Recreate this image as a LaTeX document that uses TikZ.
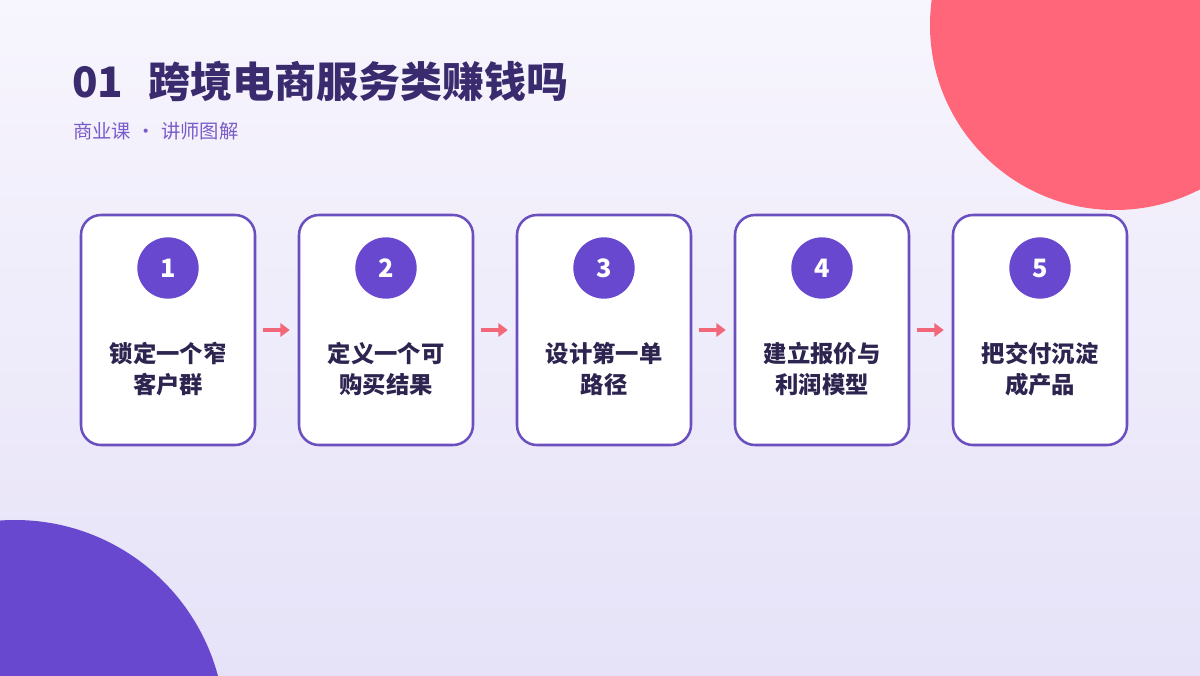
\documentclass[tikz,border=0pt]{standalone}
\usepackage{fontspec}
\setmainfont{Noto Sans CJK SC}
\usetikzlibrary{arrows.meta}
\definecolor{bgtop}{HTML}{F7F5FD}
\definecolor{bgbot}{HTML}{E6E2F8}
\definecolor{coral}{HTML}{FF6679}
\definecolor{violet}{HTML}{6848CF}
\definecolor{cardline}{HTML}{6A4FBF}
\definecolor{titlec}{HTML}{3A2A6E}
\definecolor{subc}{HTML}{7A5CC8}
\definecolor{textc}{HTML}{2E2450}
\definecolor{arrowc}{HTML}{F2677A}
\tikzset{
  card/.style={draw=cardline, line width=1.9pt, fill=white, rounded corners=15pt,
    minimum width=130.5pt, minimum height=172.5pt, inner sep=0pt},
  numdot/.style={circle, fill=violet, minimum size=46pt, inner sep=0pt,
    text=white, font=\fontsize{19}{21}\selectfont\bfseries},
  cardtext/.style={align=center, text=textc, font=\fontsize{17.5}{23.5}\selectfont\bfseries},
  flow/.style={arrowc, line width=3.6pt, -{Triangle[length=7pt,width=10pt]},
    shorten <=5pt, shorten >=6pt}
}
\begin{document}
\begin{tikzpicture}[x=0.75pt,y=-0.75pt]
\useasboundingbox (0,0) rectangle (1200,675);
\fill[top color=bgtop, bottom color=bgbot] (0,0) rectangle (1200,675);
\begin{scope}
\clip (0,0) rectangle (1200,675);
\fill[coral] (1115,25) circle[radius=138.75pt];
\fill[violet] (15,730) circle[radius=157.5pt];
\end{scope}
\node[anchor=base west, inner sep=0pt, text=titlec, font=\fontsize{31.5}{36}\selectfont\bfseries] (title) at (72,97) {01\hspace{19pt}跨境电商服务类赚钱吗};
\node[anchor=base west, inner sep=0pt, text=subc, font=\fontsize{14.5}{17}\selectfont] (sub) at (73,138) {商业课\hspace{4pt}·\hspace{4pt}讲师图解};
\foreach \i/\x/\a/\b in {1/168/锁定一个窄/客户群, 2/386/定义一个可/购买结果, 3/604/设计第一单/路径, 4/822/建立报价与/利润模型, 5/1040/把交付沉淀/成产品}{
  \node[card] (c\i) at (\x,330) {};
  \node[numdot] (n\i) at (\x,268) {\i};
  \node[cardtext] (t\i) at (\x,369) {\a\\\b};
}
\foreach \i/\j in {1/2,2/3,3/4,4/5}{
  \draw[flow] (c\i.east) -- (c\j.west);
}
\end{tikzpicture}
\end{document}
